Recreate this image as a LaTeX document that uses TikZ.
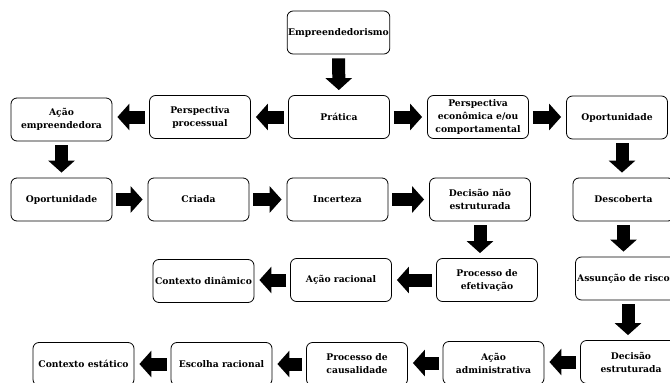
\documentclass[tikz,border=0pt]{standalone}
\usepackage{fontspec}
\setmainfont{DejaVu Serif}
\usepackage{tikz}
\usetikzlibrary{arrows.meta,calc}

\begin{document}
\begin{tikzpicture}[x=1pt,y=-1pt,
    caixa/.style={draw,rounded corners=6pt,line width=0.8pt,
      minimum width=101pt,minimum height=43pt,inner sep=1pt,align=center,
      font=\bfseries\fontsize{9.2}{13}\selectfont},
    seta/.style={line width=13pt,-{Triangle[width=26pt,length=12pt]},
      shorten <=4pt,shorten >=5pt}]
        \useasboundingbox (0,0) rectangle (670,383);
        % caixas
        \node[caixa] (emp) at (338.5,32.5) {Empreendedorismo};
        \node[caixa] (acemp) at (61.5,119.5) {Ação\\empreendedora};
        \node[caixa] (pproc) at (200,117) {Perspectiva\\processual};
        \node[caixa] (prat) at (339,117) {Prática};
        \node[caixa] (pecon) at (478,117) {Perspectiva\\econômica e/ou\\comportamental};
        \node[caixa] (opor1) at (617,117.5) {Oportunidade};
        \node[caixa] (opor2) at (61.5,199.5) {Oportunidade};
        \node[caixa] (criada) at (198.5,199.5) {Criada};
        \node[caixa] (incert) at (337.5,199.5) {Incerteza};
        \node[caixa] (decnao) at (480,199.5) {Decisão não\\estruturada};
        \node[caixa] (desc) at (623.5,199.5) {Descoberta};
        \node[caixa] (cdin) at (203.5,281) {Contexto dinâmico};
        \node[caixa] (acrac) at (341,280) {Ação racional};
        \node[caixa] (pefet) at (487,280) {Processo de\\efetivação};
        \node[caixa] (assun) at (626,278.5) {Assunção de riscos};
        \node[caixa] (cest) at (83.5,364) {Contexto estático};
        \node[caixa] (escrac) at (221.5,364) {Escolha racional};
        \node[caixa] (pcaus) at (357,364) {Processo de\\causalidade};
        \node[caixa] (acadm) at (493.5,363) {Ação\\administrativa};
        \node[caixa] (decest) at (631,362) {Decisão\\estruturada};
        % pontos de saida das setas da direita
        \coordinate (s1) at ($(opor1.south)+(5,0)$);
        \coordinate (s2) at ($(assun.south)+(2,0)$);
        % setas
        \draw[seta] (emp) -- (prat);
        \draw[seta] (prat) -- (pproc);
        \draw[seta] (pproc) -- (acemp.east |- pproc);
        \draw[seta] (prat) -- (pecon);
        \draw[seta] (pecon) -- (opor1.west |- pecon);
        \draw[seta] (acemp) -- (opor2);
        \draw[seta] (opor2) -- (criada);
        \draw[seta] (criada) -- (incert);
        \draw[seta] (incert) -- (decnao);
        \draw[seta] (decnao.south) -- (decnao.south |- pefet.north);
        \draw[seta] (pefet) -- (acrac.east |- pefet);
        \draw[seta] (acrac) -- (cdin.east |- acrac);
        \draw[seta] (s1) -- (s1 |- desc.north);
        \draw[seta] (desc.south) -- (desc.south |- assun.north);
        \draw[seta] (s2) -- (s2 |- decest.north);
        \draw[seta] (decest) -- (acadm.east |- decest);
        \draw[seta] (acadm) -- (pcaus.east |- acadm);
        \draw[seta] (pcaus) -- (escrac);
        \draw[seta] (escrac) -- (cest);
\end{tikzpicture}
\end{document}
